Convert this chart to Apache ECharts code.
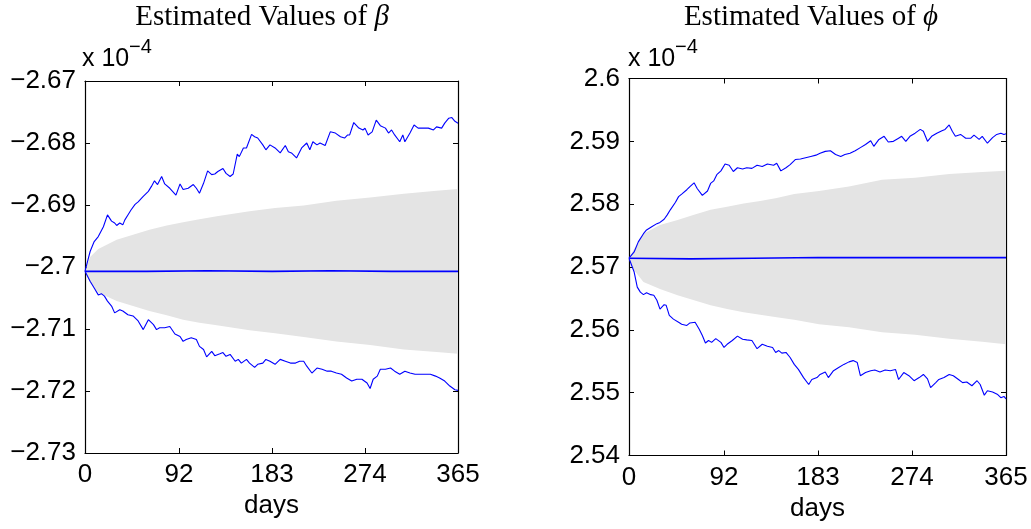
<!DOCTYPE html>
<html>
<head>
<meta charset="utf-8">
<script src="https://cdn.jsdelivr.net/npm/echarts@6/dist/echarts.min.js"></script>
<style>
  html, body { margin: 0; padding: 0; background: #fff; }
  #chart { width: 1031px; height: 529px; }
</style>
</head>
<body>
<div id="chart"></div>
<script>
// Values are in units of 1e-4; days run 0..365.
const xTicks = [0, 92, 183, 274, 365];

// beta: upper and lower estimate paths, mean path, and the shaded band
const betaUpper = [[0,-2.7007],[5,-2.6975],[9,-2.6959],[13,-2.6951],[18,-2.6935],[19,-2.6937],[22,-2.6916],[26,-2.6926],[29,-2.6929],[31,-2.6933],[34,-2.6929],[37,-2.6932],[39,-2.6924],[42,-2.6916],[45,-2.6908],[49,-2.6899],[52,-2.6895],[57,-2.6886],[62,-2.6878],[65,-2.6870],[68,-2.6861],[71,-2.6867],[75,-2.6854],[78,-2.6866],[83,-2.6873],[89,-2.6884],[93,-2.6866],[96,-2.6875],[101,-2.6873],[106,-2.6867],[109,-2.6873],[112,-2.6881],[116,-2.6865],[120,-2.6845],[124,-2.6851],[127,-2.6850],[130,-2.6846],[135,-2.6841],[138,-2.6849],[142,-2.6854],[145,-2.6850],[149,-2.6818],[151,-2.6822],[155,-2.6808],[158,-2.6808],[163,-2.6786],[166,-2.6790],[169,-2.6792],[174,-2.6803],[177,-2.6811],[181,-2.6803],[186,-2.6808],[191,-2.6816],[196,-2.6804],[199,-2.6814],[202,-2.6816],[207,-2.6824],[212,-2.6808],[217,-2.6800],[220,-2.6811],[223,-2.6798],[227,-2.6803],[230,-2.6800],[235,-2.6804],[240,-2.6782],[245,-2.6784],[250,-2.6790],[254,-2.6792],[257,-2.6787],[259,-2.6787],[263,-2.6767],[268,-2.6776],[272,-2.6779],[274,-2.6776],[277,-2.6787],[281,-2.6782],[285,-2.6763],[289,-2.6772],[294,-2.6776],[297,-2.6784],[300,-2.6779],[303,-2.6787],[308,-2.6798],[311,-2.6787],[313,-2.6798],[318,-2.6784],[322,-2.6771],[326,-2.6776],[331,-2.6776],[336,-2.6776],[341,-2.6779],[344,-2.6774],[349,-2.6776],[352,-2.6768],[356,-2.6760],[359,-2.6759],[362,-2.6765],[365,-2.6768]];
const betaLower = [[0,-2.7007],[5,-2.7023],[9,-2.7034],[13,-2.7045],[16,-2.7043],[19,-2.7047],[22,-2.7055],[26,-2.7063],[29,-2.7074],[34,-2.7069],[37,-2.7071],[42,-2.7077],[47,-2.7079],[52,-2.7087],[57,-2.7101],[62,-2.7085],[67,-2.7093],[70,-2.7101],[73,-2.7098],[78,-2.7098],[83,-2.7096],[88,-2.7108],[93,-2.7112],[96,-2.7120],[99,-2.7117],[104,-2.7114],[109,-2.7117],[112,-2.7128],[116,-2.7133],[119,-2.7145],[124,-2.7136],[127,-2.7143],[132,-2.7140],[135,-2.7138],[138,-2.7144],[142,-2.7141],[147,-2.7152],[150,-2.7149],[153,-2.7155],[158,-2.7149],[161,-2.7155],[166,-2.7162],[169,-2.7157],[174,-2.7155],[177,-2.7149],[181,-2.7152],[186,-2.7157],[191,-2.7149],[196,-2.7152],[201,-2.7155],[206,-2.7155],[210,-2.7152],[214,-2.7152],[217,-2.7160],[222,-2.7171],[227,-2.7163],[232,-2.7165],[237,-2.7168],[241,-2.7168],[246,-2.7171],[251,-2.7173],[256,-2.7179],[261,-2.7184],[266,-2.7181],[271,-2.7181],[276,-2.7187],[279,-2.7196],[282,-2.7181],[286,-2.7176],[289,-2.7165],[294,-2.7165],[299,-2.7163],[303,-2.7168],[308,-2.7173],[313,-2.7168],[318,-2.7171],[323,-2.7173],[328,-2.7173],[333,-2.7173],[338,-2.7173],[343,-2.7176],[347,-2.7179],[352,-2.7184],[357,-2.7192],[362,-2.7198],[365,-2.7199]];
const betaMean = [[0,-2.7007],[60,-2.7007],[120,-2.7006],[183,-2.7007],[240,-2.7006],[300,-2.7007],[365,-2.7007]];
const betaBandDays = [0, 5, 13, 31, 47, 63, 80, 96, 112, 129, 145, 161, 186, 214, 246, 279, 312, 344, 365];
const betaBandUpper = [-2.7007, -2.6984, -2.6971, -2.6956, -2.6948, -2.6940, -2.6933, -2.6928, -2.6923, -2.6918, -2.6914, -2.6910, -2.6905, -2.6901, -2.6893, -2.6888, -2.6882, -2.6877, -2.6874];
const betaBandLower = [-2.7007, -2.7026, -2.7041, -2.7055, -2.7063, -2.7071, -2.7078, -2.7085, -2.7090, -2.7094, -2.7098, -2.7102, -2.7107, -2.7113, -2.7120, -2.7126, -2.7133, -2.7137, -2.7140];

// phi: same layout
const phiUpper = [[0,2.5714],[5,2.5724],[9,2.5740],[14,2.5753],[17,2.5759],[22,2.5764],[27,2.5769],[30,2.5771],[34,2.5776],[37,2.5783],[40,2.5791],[45,2.5803],[48,2.5812],[51,2.5816],[56,2.5823],[59,2.5828],[63,2.5834],[66,2.5825],[71,2.5814],[76,2.5821],[79,2.5833],[82,2.5837],[85,2.5847],[89,2.5853],[93,2.5864],[97,2.5862],[101,2.5852],[105,2.5858],[110,2.5856],[114,2.5858],[119,2.5857],[124,2.5862],[129,2.5860],[134,2.5864],[140,2.5862],[143,2.5865],[147,2.5853],[152,2.5858],[156,2.5863],[161,2.5871],[166,2.5872],[171,2.5874],[176,2.5876],[181,2.5878],[185,2.5881],[190,2.5884],[195,2.5885],[200,2.5879],[205,2.5876],[209,2.5879],[214,2.5881],[219,2.5885],[224,2.5890],[229,2.5895],[234,2.5901],[237,2.5892],[242,2.5903],[247,2.5908],[251,2.5899],[256,2.5900],[261,2.5905],[264,2.5908],[268,2.5900],[272,2.5908],[277,2.5913],[282,2.5919],[285,2.5916],[289,2.5900],[293,2.5908],[298,2.5913],[303,2.5917],[306,2.5919],[310,2.5926],[313,2.5916],[316,2.5908],[321,2.5911],[326,2.5905],[331,2.5905],[334,2.5910],[339,2.5903],[342,2.5908],[347,2.5897],[352,2.5906],[356,2.5911],[360,2.5913],[363,2.5911],[365,2.5912]];
const phiLower = [[0,2.5714],[5,2.5692],[8,2.5668],[11,2.5660],[14,2.5656],[17,2.5659],[21,2.5656],[24,2.5655],[27,2.5647],[30,2.5633],[34,2.5640],[36,2.5639],[39,2.5623],[43,2.5617],[48,2.5612],[51,2.5609],[56,2.5607],[59,2.5611],[64,2.5612],[68,2.5601],[71,2.5591],[74,2.5579],[77,2.5583],[80,2.5580],[84,2.5586],[89,2.5580],[92,2.5572],[95,2.5577],[100,2.5583],[105,2.5590],[110,2.5585],[114,2.5584],[119,2.5583],[124,2.5570],[129,2.5577],[134,2.5574],[139,2.5572],[142,2.5564],[145,2.5567],[148,2.5563],[152,2.5564],[156,2.5556],[160,2.5545],[164,2.5537],[169,2.5524],[174,2.5513],[177,2.5521],[182,2.5524],[185,2.5529],[190,2.5533],[193,2.5524],[198,2.5535],[203,2.5540],[208,2.5545],[213,2.5549],[217,2.5551],[221,2.5548],[224,2.5527],[229,2.5532],[234,2.5535],[238,2.5536],[243,2.5533],[248,2.5536],[253,2.5535],[258,2.5537],[261,2.5521],[266,2.5532],[271,2.5527],[276,2.5519],[281,2.5524],[285,2.5529],[289,2.5522],[292,2.5508],[297,2.5516],[300,2.5521],[305,2.5524],[310,2.5529],[314,2.5527],[319,2.5521],[323,2.5516],[327,2.5517],[332,2.5511],[337,2.5519],[340,2.5513],[344,2.5496],[347,2.5503],[352,2.5501],[357,2.5497],[360,2.5492],[363,2.5494],[365,2.5490]];
const phiMean = [[0,2.5714],[60,2.5713],[120,2.5714],[183,2.5715],[240,2.5715],[300,2.5715],[365,2.5715]];
const phiBandDays = [0, 5, 14, 30, 47, 63, 79, 95, 111, 127, 143, 160, 184, 213, 245, 277, 310, 342, 365];
const phiBandUpper = [2.5714, 2.5729, 2.5753, 2.5767, 2.5775, 2.5783, 2.5791, 2.5796, 2.5801, 2.5805, 2.5810, 2.5816, 2.5821, 2.5828, 2.5839, 2.5842, 2.5848, 2.5851, 2.5853];
const phiBandLower = [2.5714, 2.5695, 2.5676, 2.5665, 2.5655, 2.5647, 2.5639, 2.5633, 2.5628, 2.5624, 2.5620, 2.5616, 2.5609, 2.5604, 2.5596, 2.5592, 2.5586, 2.5581, 2.5577];

const betaRange = { min: -2.73, max: -2.67 };
const phiRange = { min: 2.54, max: 2.60 };

const SANS = '"Liberation Sans", Arial, sans-serif';
const SERIF = '"Liberation Serif", "Times New Roman", serif';
const BLUE = '#0000ff';
const BAND = '#e4e4e4';

function fmtY(v) {
  return String(parseFloat(v.toFixed(2))).replace('-', '\u2212');
}

const axisLine = { show: true, onZero: false, lineStyle: { color: '#000', width: 1.2 } };

function xAxes(gridIndex) {
  const base = {
    type: 'value', gridIndex, min: 0, max: 365,
    axisLine, splitLine: { show: false },
    axisTick: { show: true, inside: true, length: 5, customValues: xTicks, lineStyle: { color: '#000' } }
  };
  return [
    Object.assign({}, base, {
      position: 'bottom',
      axisLabel: { show: true, customValues: xTicks, margin: 9, color: '#000', fontSize: 26, fontFamily: SANS },
      name: 'days', nameLocation: 'middle', nameGap: 40,
      nameTextStyle: { color: '#000', fontSize: 26, fontFamily: SANS }
    }),
    Object.assign({}, base, { position: 'top', axisLabel: { show: false } })
  ];
}

function yAxes(gridIndex, range) {
  const base = {
    type: 'value', gridIndex, min: range.min, max: range.max, interval: 0.01,
    axisLine, splitLine: { show: false },
    axisTick: { show: true, inside: true, length: 5, lineStyle: { color: '#000' } }
  };
  return [
    Object.assign({}, base, {
      position: 'left',
      axisLabel: { show: true, margin: 9, color: '#000', fontSize: 26, fontFamily: SANS, formatter: fmtY }
    }),
    Object.assign({}, base, { position: 'right', axisLabel: { show: false } })
  ];
}

// Shaded band: one polygon through the upper edge and back along the lower edge
function bandSeries(axisIdx, days, upperBand, lowerBand) {
  return {
    type: 'custom', xAxisIndex: axisIdx, yAxisIndex: axisIdx,
    silent: true, animation: false, clip: true, z: 1,
    data: [[days[0], lowerBand[0]]],
    renderItem: function (params, api) {
      const pts = [];
      for (let i = 0; i < days.length; i++) pts.push(api.coord([days[i], upperBand[i]]));
      for (let i = days.length - 1; i >= 0; i--) pts.push(api.coord([days[i], lowerBand[i]]));
      return { type: 'polygon', shape: { points: pts }, style: { fill: BAND, stroke: null } };
    }
  };
}

function panelSeries(axisIdx, days, upperBand, lowerBand, upper, lower, mean) {
  const common = { xAxisIndex: axisIdx, yAxisIndex: axisIdx, type: 'line', symbol: 'none', silent: true, animation: false, z: 3 };
  return [
    bandSeries(axisIdx, days, upperBand, lowerBand),
    Object.assign({}, common, { data: upper, lineStyle: { color: BLUE, width: 1.1 } }),
    Object.assign({}, common, { data: lower, lineStyle: { color: BLUE, width: 1.1 } }),
    Object.assign({}, common, { data: mean, lineStyle: { color: BLUE, width: 1.6 } })
  ];
}

function titleText(x, symbol) {
  return {
    type: 'text', x, y: 17,
    style: {
      text: '{t|Estimated Values of }{g|' + symbol + '}',
      align: 'center', verticalAlign: 'middle',
      rich: {
        t: { fontFamily: SERIF, fontSize: 29, fill: '#000' },
        g: { fontFamily: SERIF, fontSize: 29, fontStyle: 'italic', fill: '#000' }
      }
    }
  };
}

function scaleText(x) {
  return [
    { type: 'text', x: x, y: 59, style: { text: 'x 10', fontFamily: SANS, fontSize: 25, fill: '#000', verticalAlign: 'middle' } },
    { type: 'text', x: x + 47, y: 47, style: { text: '\u22124', fontFamily: SANS, fontSize: 20, fill: '#000', verticalAlign: 'middle' } }
  ];
}

const chart = echarts.init(document.getElementById('chart'), null, { renderer: 'canvas' });
chart.setOption({
  backgroundColor: '#fff',
  animation: false,
  grid: [
    { left: 85, top: 81, width: 373, height: 372 },
    { left: 629, top: 78.5, width: 377, height: 377 }
  ],
  xAxis: xAxes(0).concat(xAxes(1)),
  yAxis: yAxes(0, betaRange).concat(yAxes(1, phiRange)),
  series: panelSeries(0, betaBandDays, betaBandUpper, betaBandLower, betaUpper, betaLower, betaMean)
    .concat(panelSeries(2, phiBandDays, phiBandUpper, phiBandLower, phiUpper, phiLower, phiMean)),
  graphic: [titleText(262, '\u03b2'), titleText(811, '\u03d5')]
    .concat(scaleText(82))
    .concat(scaleText(628))
});
</script>
</body>
</html>
